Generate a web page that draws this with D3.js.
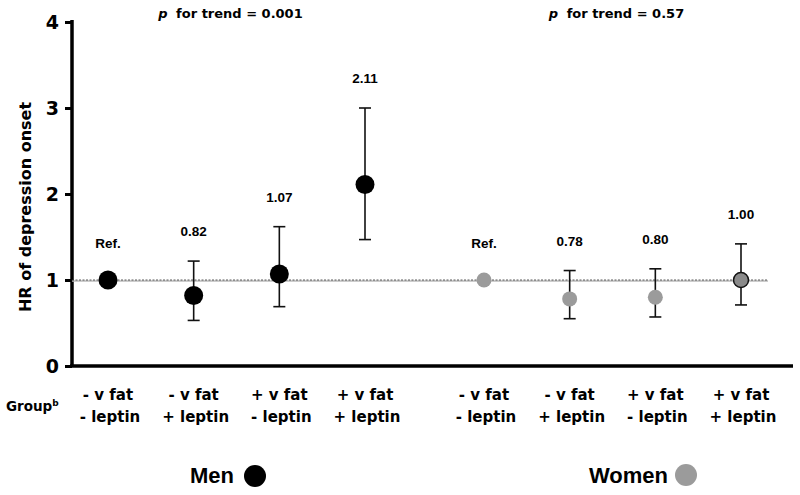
<!DOCTYPE html>
<html><head><meta charset="utf-8">
<script src="https://cdn.jsdelivr.net/npm/d3@7"></script>
<style>
body{margin:0;background:#fff;}
svg{display:block;font-family:"DejaVu Sans",Verdana,sans-serif;font-weight:bold;}
</style></head>
<body><svg id="chart" width="800" height="495"></svg>
<script>
// ---- data ----
const sexes = ["Men", "Women"];
const groupsLine1 = ["- v fat", "- v fat", "+ v fat", "+ v fat"];
const groupsLine2 = ["- leptin", "+ leptin", "- leptin", "+ leptin"];
const groupIds = ["g1", "g2", "g3", "g4"];
const menHR = [1.00, 0.82, 1.07, 2.11];
const menLo = [null, 0.53, 0.69, 1.47];
const menHi = [null, 1.22, 1.62, 3.00];
const womenHR = [1.00, 0.78, 0.80, 1.00];
const womenLo = [null, 0.55, 0.57, 0.71];
const womenHi = [null, 1.11, 1.13, 1.42];
const menLabels = ["Ref.", "0.82", "1.07", "2.11"];
const womenLabels = ["Ref.", "0.78", "0.80", "1.00"];
const trendP = ["0.001", "0.57"];
const yTicks = [0, 1, 2, 3, 4];

const svg = d3.select("#chart");
const y = d3.scaleLinear().domain([0, 4]).range([366, 22]);
const sexScale = d3.scalePoint().domain(sexes).range([236.5, 612.5]);
const inner = d3.scalePoint().domain(groupIds).range([-128.5, 128.5]);
const xPos = (sex, gi) => sexScale(sex) + inner(groupIds[gi]);
const arial = "'Liberation Sans',Arial,sans-serif";

// axes
const yAxis = d3.axisLeft(y).tickValues(yTicks).tickSize(7).tickPadding(6).tickFormat(d3.format("d"));
const gy = svg.append("g").attr("transform", "translate(72,0)").call(yAxis);
gy.select(".domain").attr("stroke", "#000").attr("stroke-width", 3.5).attr("d", "M0,20V366");
gy.selectAll(".tick line").attr("stroke", "#000").attr("stroke-width", 3);
gy.selectAll(".tick text").attr("font-size", 19).attr("font-weight", "bold").attr("fill", "#000")
  .attr("font-family", "'DejaVu Sans',sans-serif");

svg.append("line").attr("x1", 70).attr("x2", 793).attr("y1", y(0)).attr("y2", y(0))
  .attr("stroke", "#000").attr("stroke-width", 3.5);

// reference line at HR = 1
svg.append("line").attr("x1", 72).attr("x2", 768).attr("y1", y(1) + 1).attr("y2", y(1) + 1)
  .attr("stroke", "#bbb").attr("stroke-width", 1.5);
svg.append("line").attr("x1", 72).attr("x2", 768).attr("y1", y(1)).attr("y2", y(1))
  .attr("stroke", "#333").attr("stroke-width", 0.8).attr("stroke-dasharray", "2,1.5");

// y title
svg.append("text").attr("transform", "translate(31,207) rotate(-90)")
  .attr("text-anchor", "middle").attr("font-size", 16).text("HR of depression onset");

// trend titles
sexes.forEach((s, i) => {
  const t = svg.append("text").attr("x", sexScale(s) + (i === 0 ? -6 : 4)).attr("y", 18)
    .attr("text-anchor", "middle").attr("font-size", 13);
  t.append("tspan").attr("font-style", "italic").text("p");
  t.append("tspan").attr("dx", 4).text(" for trend = " + trendP[i]);
});

const series = [
  {sex: "Men", hr: menHR, lo: menLo, hi: menHi, labels: menLabels},
  {sex: "Women", hr: womenHR, lo: womenLo, hi: womenHi, labels: womenLabels}
];

series.forEach(sr => {
  const g = svg.append("g");
  sr.hr.forEach((v, i) => {
    const cx = xPos(sr.sex, i);
    if (sr.lo[i] != null) {
      g.append("line").attr("x1", cx).attr("x2", cx).attr("y1", y(sr.lo[i])).attr("y2", y(sr.hi[i]))
        .attr("stroke", "#111").attr("stroke-width", 1.6);
      [sr.lo[i], sr.hi[i]].forEach(e => g.append("line").attr("x1", cx - 6).attr("x2", cx + 6)
        .attr("y1", y(e)).attr("y2", y(e)).attr("stroke", "#111").attr("stroke-width", 1.6));
    }
    let fill, r, stroke = "none";
    if (sr.sex === "Men") { fill = "#000"; r = 9.5; }
    else if (i === 3) { fill = "#8a8a8a"; r = 7.5; stroke = "#111"; }
    else { fill = "#9b9b9b"; r = 7.5; }
    g.append("circle").attr("cx", cx).attr("cy", y(v)).attr("r", r).attr("fill", fill)
      .attr("stroke", stroke).attr("stroke-width", 1.5);
    const ly = sr.hi[i] != null ? y(sr.hi[i]) - 25 : y(v) - 32;
    g.append("text").attr("x", cx).attr("y", ly).attr("text-anchor", "middle")
      .attr("font-family", arial).attr("font-size", 13.5).text(sr.labels[i]);
    // x category labels
    const tx = g.append("text").attr("x", cx).attr("text-anchor", "middle").attr("font-size", 15);
    tx.append("tspan").attr("x", cx).attr("y", 400).text(groupsLine1[i]);
    tx.append("tspan").attr("x", cx + 2).attr("y", 422).text(groupsLine2[i]);
  });
});

// Group label
const gl = svg.append("text").attr("x", 6).attr("y", 411).attr("font-size", 13.5);
gl.append("tspan").text("Group");
gl.append("tspan").attr("font-size", 9).attr("dy", -5).text("b");

// legend
svg.append("text").attr("x", 234).attr("y", 483).attr("text-anchor", "end")
  .attr("font-family", arial).attr("font-size", 22).text("Men");
svg.append("circle").attr("cx", 255).attr("cy", 476).attr("r", 11).attr("fill", "#000");
svg.append("text").attr("x", 668).attr("y", 483).attr("text-anchor", "end")
  .attr("font-family", arial).attr("font-size", 22).text("Women");
svg.append("circle").attr("cx", 686).attr("cy", 475).attr("r", 11).attr("fill", "#9b9b9b");
</script></body></html>
